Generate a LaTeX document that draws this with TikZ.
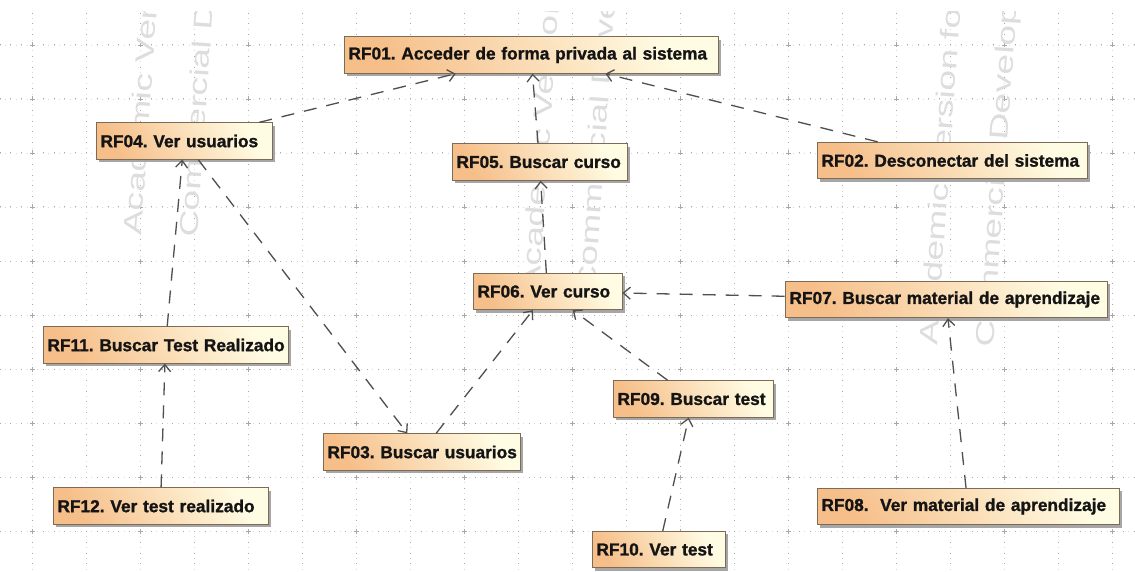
\documentclass[tikz,border=0pt]{standalone}
\usepackage{fontspec}
\setmainfont{Liberation Sans}
\newfontfamily\boxfont{Liberation Sans}[BoldFeatures={FakeBold=1.2}]
\usetikzlibrary{arrows.meta,shadows}
\definecolor{peach}{HTML}{F6BF8A}
\definecolor{cream}{HTML}{FFFCE4}
\definecolor{boxline}{HTML}{7D6B55}
\definecolor{wire}{HTML}{4F4F4F}
\definecolor{gridc}{HTML}{A8A8A8}
\definecolor{markc}{HTML}{DDDDDD}

\begin{document}
\frenchspacing
\begin{tikzpicture}[x=1pt,y=-1pt,
  req/.style={draw=boxline, line width=0.8pt,
    bottom color=peach, top color=cream, shading angle=-60,
    general shadow={fill=black!35, shadow xshift=3pt, shadow yshift=-3pt},
    inner xsep=4.5pt, inner ysep=0pt, minimum height=36.5pt,
    align=left, text=black!92,
    font=\boxfont\bfseries\fontsize{17.3}{20}\selectfont},
  dep/.style={draw=wire, line width=1.3pt, dash pattern=on 13pt off 10pt,
    -{Straight Barb[length=7pt,width=12pt,line width=1.3pt]}},
  gridmain/.style={draw=gridc, line width=1pt, dash pattern=on 1pt off 9.8pt},
  gridfine/.style={draw=gridc!45, line width=0.8pt, dash pattern=on 0.8pt off 4.6pt, dash phase=-5.4pt},
  wmark/.style={text=markc, rotate=86, anchor=base west, inner sep=0pt,
    font=\fontsize{37}{40}\selectfont}
]
\useasboundingbox (0,0) rectangle (1135,572);
\fill[white] (0,0) rectangle (1135,572);

% background grid and watermark lettering
\begin{scope}
  \clip (0,12) rectangle (1135,572);
  \foreach \gx in {32,86,...,1140} {
    \draw[gridfine] (\gx,12.6) -- (\gx,572);
    \draw[gridmain] (\gx,12.6) -- (\gx,572);
  }
  \foreach \gy in {45,99,...,572} {
    \draw[gridfine] (-0.4,\gy) -- (1135,\gy);
    \draw[gridmain] (-0.4,\gy) -- (1135,\gy);
  }
  \foreach \gx in {32,140,...,1140}
    \foreach \gy in {45,99,...,572}
      \draw[gridc, line width=0.8pt] (\gx-2.5,\gy) -- (\gx+2.5,\gy) (\gx,\gy-2.5) -- (\gx,\gy+2.5);

  \foreach \dx/\dy/\k in {0/0/1,398/55/2,796/110/3} {
    \node[wmark] (wa\k) at (141+\dx,236+\dy) {\scalebox{1}[0.7]{Academic Version for}};
    \node[wmark] (wb\k) at (197+\dx,238+\dy) {\scalebox{1}[0.7]{Commercial Development}};
  }
\end{scope}

% requirement boxes
\node[req, text width=365pt] (rf01) at (531,55)    {\mbox{RF01. Acceder de forma privada al sistema}};
\node[req, text width=167pt] (rf04) at (184,141)   {\mbox{RF04. Ver usuarios}};
\node[req, text width=166pt] (rf05) at (539.5,162) {\mbox{RF05. Buscar curso}};
\node[req, text width=261pt] (rf02) at (952,160.5) {\mbox{RF02. Desconectar del sistema}};
\node[req, text width=140pt] (rf06) at (547.5,291.5) {\mbox{RF06. Ver curso}};
\node[req, text width=313pt] (rf07) at (946,299.5) {\mbox{RF07. Buscar material de aprendizaje}};
\node[req, text width=236pt] (rf11) at (165.5,345) {\mbox{RF11. Buscar Test Realizado}};
\node[req, text width=206pt] (rf12) at (160.5,506) {\mbox{RF12. Ver test realizado}};
\node[req, text width=188pt] (rf03) at (421.5,452) {\mbox{RF03. Buscar usuarios}};
\node[req, text width=151pt] (rf09) at (693,399)   {\mbox{RF09. Buscar test}};
\node[req, text width=124pt] (rf10) at (658.5,549.5) {\mbox{RF10. Ver test}};
\node[req, text width=293pt] (rf08) at (968,506.5) {\mbox{RF08.\ \ Ver material de aprendizaje}};

% dependencies
\draw[dep] (rf04) -- (rf01);
\draw[dep] (rf05) -- (rf01);
\draw[dep] (rf02) -- (rf01);
\draw[dep] (rf06) -- (rf05);
\draw[dep] (rf11) -- (rf04);
\draw[dep] (rf12) -- (rf11);
\draw[dep] (rf04) -- (rf03);
\draw[dep] (rf03) -- (rf06);
\draw[dep] (rf09) -- (rf06);
\draw[dep] (rf10) -- (rf09);
\draw[dep] (rf07) -- (rf06);
\draw[dep] (rf08) -- (rf07);
\end{tikzpicture}
\end{document}
